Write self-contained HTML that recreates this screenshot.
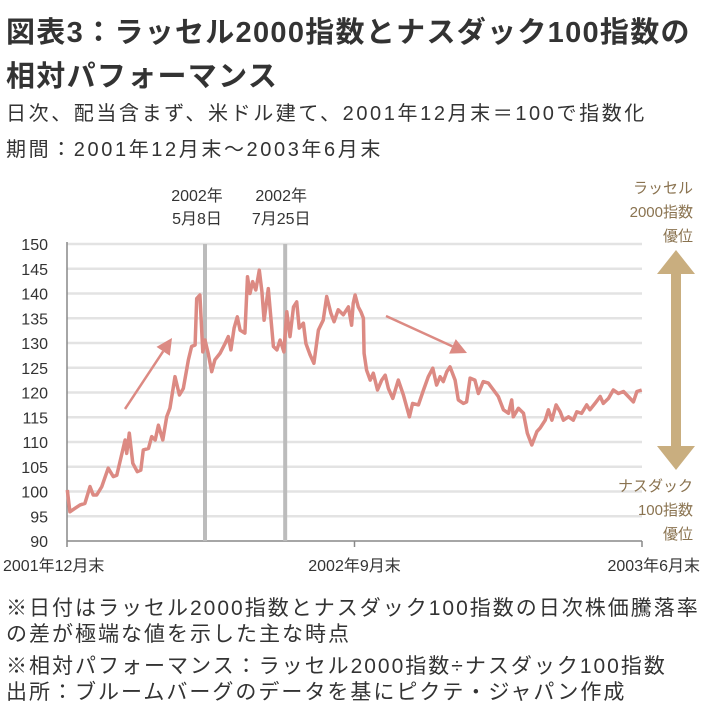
<!DOCTYPE html>
<html><head><meta charset="utf-8">
<style>
body{margin:0;background:#fff;width:713px;height:719px;overflow:hidden;font-family:"Liberation Sans","Noto Sans CJK JP",sans-serif;color:#222}
.t{position:absolute;white-space:nowrap}
.fn{font-size:21px;letter-spacing:2px;color:#333}
</style></head><body>
<div class="t" style="left:6px;top:9px;font-size:29px;letter-spacing:1.3px;font-weight:bold;color:#333">図表3：ラッセル2000指数とナスダック100指数の</div>
<div class="t" style="left:6px;top:53px;font-size:29px;letter-spacing:1.3px;font-weight:bold;color:#333">相対パフォーマンス</div>
<div class="t" style="left:6px;top:97px;font-size:20px;letter-spacing:2.6px;color:#333">日次、配当含まず、米ドル建て、2001年12月末＝100で指数化</div>
<div class="t" style="left:6px;top:133px;font-size:20px;letter-spacing:2.6px;color:#333">期間：2001年12月末～2003年6月末</div>
<svg id="c" width="713" height="719" style="position:absolute;left:0;top:0"></svg>
<div class="t fn" style="left:6px;top:592px">※日付はラッセル2000指数とナスダック100指数の日次株価騰落率</div>
<div class="t fn" style="left:6px;top:618px">の差が極端な値を示した主な時点</div>
<div class="t fn" style="left:6px;top:650px">※相対パフォーマンス：ラッセル2000指数÷ナスダック100指数</div>
<div class="t fn" style="left:6px;top:676px">出所：ブルームバーグのデータを基にピクテ・ジャパン作成</div>
<script>
const months=[0.01,0.09,0.25,0.41,0.56,0.72,0.82,0.93,1.09,1.29,1.45,1.56,1.71,1.82,1.87,1.95,2.06,2.20,2.31,2.39,2.55,2.65,2.76,2.86,3.00,3.12,3.22,3.38,3.52,3.64,3.80,3.90,4.01,4.06,4.16,4.25,4.32,4.42,4.53,4.63,4.79,4.95,5.05,5.13,5.23,5.33,5.42,5.57,5.65,5.73,5.81,5.91,6.02,6.10,6.17,6.30,6.46,6.57,6.67,6.79,6.88,6.98,7.09,7.19,7.27,7.40,7.48,7.61,7.73,7.87,8.02,8.13,8.26,8.36,8.49,8.65,8.81,8.91,8.96,9.02,9.12,9.20,9.28,9.30,9.38,9.49,9.59,9.72,9.85,9.96,10.06,10.20,10.37,10.53,10.72,10.82,11.00,11.16,11.31,11.45,11.57,11.68,11.78,11.89,11.99,12.15,12.25,12.41,12.51,12.62,12.77,12.88,13.03,13.19,13.35,13.50,13.66,13.82,13.92,13.97,14.13,14.29,14.41,14.55,14.71,14.81,14.97,15.07,15.18,15.31,15.44,15.54,15.70,15.85,15.96,16.11,16.27,16.37,16.53,16.69,16.79,16.95,17.10,17.26,17.42,17.57,17.73,17.84,17.99];
const values=[100.3,95.9,96.6,97.3,97.6,101.0,99.3,99.3,101.0,104.7,103.0,103.3,107.4,110.4,107.7,111.8,105.7,104.0,104.3,108.4,108.7,111.1,110.4,113.4,110.4,115.1,116.8,123.2,119.5,120.8,126.6,129.3,129.6,139.0,139.7,128.2,130.6,127.9,124.2,126.6,127.9,129.9,131.3,128.6,133.0,135.3,132.6,132.0,143.4,140.0,142.4,140.7,144.7,140.4,134.6,141.0,129.3,128.6,130.6,128.2,136.3,131.3,137.3,138.3,133.0,134.0,129.9,127.6,125.9,132.6,134.6,139.4,136.0,134.3,136.7,135.7,137.3,133.6,138.0,139.7,137.3,136.3,135.0,127.9,124.5,122.5,123.9,120.5,122.5,123.5,120.8,118.8,122.5,119.5,115.1,117.8,117.5,120.5,123.2,124.9,121.5,123.2,122.2,124.2,125.2,122.5,118.5,117.8,118.1,122.9,122.5,119.8,122.2,121.9,120.5,119.2,116.5,115.8,118.5,115.1,116.8,115.8,111.8,109.4,112.1,112.8,114.4,116.5,114.4,117.5,116.1,114.4,115.1,114.4,116.1,115.8,117.5,116.5,117.8,119.2,117.8,118.8,120.5,119.8,120.2,119.2,118.1,120.2,120.5];
const yTicks=[90,95,100,105,110,115,120,125,130,135,140,145,150];
const xTickMonths=[0,9,18];
const xTickLabels=["2001年12月末","2002年9月末","2003年6月末"];
const eventMonths=[4.32,6.83];
const eventLabels=[["2002年","5月8日"],["2002年","7月25日"]];

const svg=document.getElementById('c');const NS='http://www.w3.org/2000/svg';
const X0=67,X1=642,Y0=541,Y1=244;
const xs=m=>X0+(m/18)*(X1-X0);
const ys=v=>Y0-(v-90)/60*(Y0-Y1);
function el(t,a,p){const e=document.createElementNS(NS,t);for(const k in a)e.setAttribute(k,a[k]);(p||svg).appendChild(e);return e;}
yTicks.forEach(v=>{
  if(v>90){const g=el('line',{x1:X0,x2:X1,y1:ys(v),y2:ys(v),stroke:'#e3e3e3','stroke-width':2.5});
  
  }
  const t=el('text',{x:48,y:ys(v)+6,'text-anchor':'end','font-size':16,fill:'#333'});t.textContent=v;
  
  
});
const ax=el('line',{x1:X0,x2:X1,y1:Y0,y2:Y0,stroke:'#888','stroke-width':1.5});


const ay=el('line',{x1:X0,x2:X0,y1:Y1-2,y2:Y0,stroke:'#888','stroke-width':1.5});


xTickMonths.forEach((m,i)=>{
  const tk=el('line',{x1:xs(m),x2:xs(m),y1:Y0,y2:Y0+6,stroke:'#888','stroke-width':1.5});
  
  
  const anc=i==0?'start':(i==2?'end':'middle');const xx=i==0?3:(i==2?700:xs(m));
  const t=el('text',{x:xx,y:571,'text-anchor':anc,'font-size':16,fill:'#333'});t.textContent=xTickLabels[i];
  
  
});
eventMonths.forEach((m,i)=>{
  const l=el('line',{x1:xs(m),x2:xs(m),y1:Y1,y2:Y0,stroke:'#bcbcbc','stroke-width':4});
  
  
  eventLabels[i].forEach((s,j)=>{const t=el('text',{x:xs(m)-8+ (i*4),y:201+j*23,'text-anchor':'middle','font-size':16,fill:'#333'});t.textContent=s;
  
  });
});
const pts=months.map((m,i)=>xs(m).toFixed(1)+','+ys(values[i]).toFixed(1)).join(' ');
const ln=el('polyline',{points:pts,fill:'none',stroke:'#dc8a83','stroke-width':3.5,'stroke-linejoin':'round'});


function arrow(x1,y1,x2,y2,name){
  const a=Math.atan2(y2-y1,x2-x1),L=16,W=8;
  const bx=x2-L*Math.cos(a),by=y2-L*Math.sin(a);
  const l=el('line',{x1:x1,y1:y1,x2:bx,y2:by,stroke:'#dc8a83','stroke-width':2.5});
  
  
  const p=el('polygon',{points:`${x2},${y2} ${bx+W*Math.sin(a)},${by-W*Math.cos(a)} ${bx-W*Math.sin(a)},${by+W*Math.cos(a)}`,fill:'#dc8a83'});
  
  
}
arrow(125,409,172,338,'uptrend-arrow');
arrow(386,316,467,353,'downtrend-arrow');
const da=el('polygon',{points:'676,250 695,274 681,274 681,446 695,446 676,470 657,446 671,446 671,274 657,274',fill:'#c9ae7f'});


[["ラッセル",193],["2000指数",217],["優位",241]].forEach(([s,y])=>{const t=el('text',{x:693,y:y,'text-anchor':'end','font-size':15,fill:'#8a7350'});t.textContent=s;

});
[["ナスダック",491],["100指数",515],["優位",539]].forEach(([s,y])=>{const t=el('text',{x:693,y:y,'text-anchor':'end','font-size':15,fill:'#8a7350'});t.textContent=s;

});
</script>
</body></html>
